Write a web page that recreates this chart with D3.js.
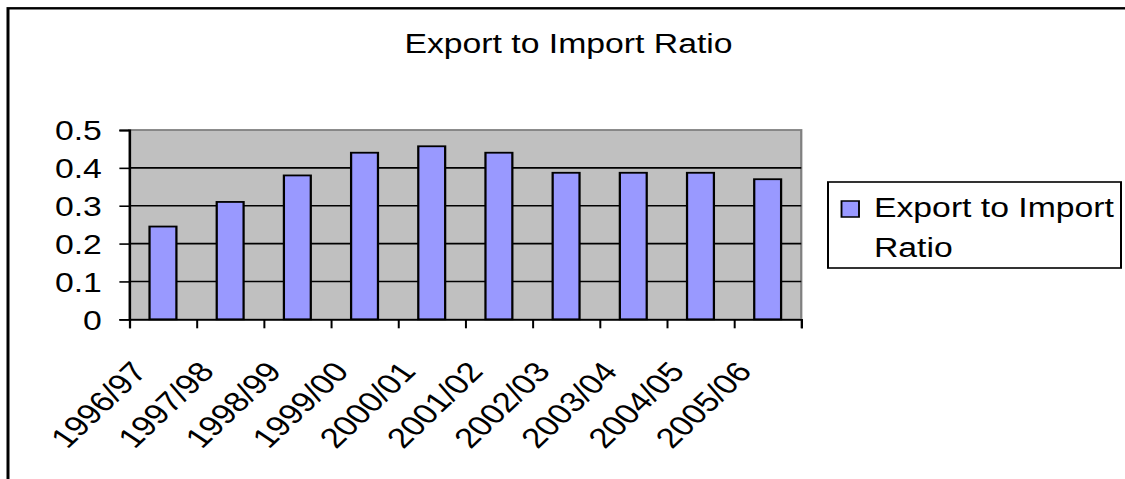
<!DOCTYPE html>
<html>
<head>
<meta charset="utf-8">
<script src="https://cdn.jsdelivr.net/npm/d3@7"></script>
<style>
html,body{margin:0;padding:0;background:#fff;overflow:hidden;}
svg{display:block;}
text{font-family:"Liberation Sans",Arial,sans-serif;fill:#000;}
</style>
</head>
<body>
<svg id="chart"></svg>
<script>
const categories = ["1996/97","1997/98","1998/99","1999/00","2000/01","2001/02","2002/03","2003/04","2004/05","2005/06"];
const values = [0.245, 0.31, 0.38, 0.44, 0.457, 0.44, 0.387, 0.387, 0.387, 0.37];
const yTicks = [0, 0.1, 0.2, 0.3, 0.4, 0.5];
const seriesName = "Export to Import Ratio";
const titleText = "Export to Import Ratio";

// drawn in a 900-wide space, stretched horizontally to 1125 like the reference
const W = 900, H = 479;
const svg = d3.select("#chart")
  .attr("width", 1125).attr("height", 479)
  .attr("viewBox", `0 0 ${W} ${H}`)
  .attr("preserveAspectRatio", "none");

// outer frame (cut at right/bottom)
svg.append("rect").attr("x", 6.4).attr("y", 8.3).attr("width", W + 20).attr("height", H + 20)
  .attr("fill", "#fff").attr("stroke", "#000").attr("stroke-width", 2.4);

const plot = {x0: 103.5, x1: 641, y0: 130, y1: 319.3};

const x = d3.scaleBand().domain(categories).range([plot.x0, plot.x1]).paddingInner(0.6).paddingOuter(0.3);
const y = d3.scaleLinear().domain([0, 0.5]).range([plot.y1, plot.y0]);

// plot area background
svg.append("rect").attr("x", plot.x0).attr("y", plot.y0)
  .attr("width", plot.x1 - plot.x0).attr("height", plot.y1 - plot.y0)
  .attr("fill", "#C0C0C0").attr("stroke", "#808080").attr("stroke-width", 1.8);

// gridlines
svg.append("g").selectAll("line").data(yTicks.filter(d => d > 0 && d < 0.5)).join("line")
  .attr("x1", plot.x0).attr("x2", plot.x1)
  .attr("y1", d => y(d)).attr("y2", d => y(d))
  .attr("stroke", "#000").attr("stroke-width", 1.6);

// bars
svg.append("g").selectAll("rect").data(values).join("rect")
  .attr("x", (d, i) => x(categories[i]))
  .attr("width", x.bandwidth())
  .attr("y", d => y(d))
  .attr("height", d => y(0) - y(d))
  .attr("fill", "#9999FF").attr("stroke", "#000").attr("stroke-width", 1.8);

// y axis
const yAxis = d3.axisLeft(y).tickValues(yTicks).tickSize(8).tickPadding(14)
  .tickFormat(d => d === 0 ? "0" : d3.format(".1f")(d));
const gy = svg.append("g").attr("transform", `translate(${plot.x0},0)`).call(yAxis);
gy.select(".domain").attr("stroke", "#000").attr("stroke-width", 1.8);
gy.selectAll(".tick line").attr("stroke", "#000").attr("stroke-width", 1.6);
gy.selectAll(".tick text").attr("font-size", 27).attr("font-family", "Liberation Sans, Arial, sans-serif")
  .attr("fill", "#000").attr("dy", "0.36em");

// x axis: ticks at category boundaries
const boundaries = d3.range(categories.length + 1);
const xb = d3.scaleLinear().domain([0, categories.length]).range([plot.x0, plot.x1]);
const gx = svg.append("g").attr("transform", `translate(0,${plot.y1})`)
  .call(d3.axisBottom(xb).tickValues(boundaries).tickSize(9).tickFormat(""));
gx.select(".domain").attr("stroke", "#000").attr("stroke-width", 1.8);
gx.selectAll(".tick line").attr("stroke", "#000").attr("stroke-width", 1.6);

// rotated category labels
svg.append("g").selectAll("text").data(categories).join("text")
  .attr("transform", d => `translate(${x(d) + x.bandwidth() / 2 - 19},${366}) rotate(-50)`)
  .attr("text-anchor", "end").attr("dy", "0.35em")
  .attr("font-size", 28)
  .text(d => d);

// title
svg.append("text").attr("x", 568.5 / 1.25).attr("y", 53.3)
  .attr("text-anchor", "middle").attr("font-size", 27).text(titleText);

// legend
const lg = svg.append("g");
lg.append("rect").attr("x", 828 / 1.25).attr("y", 182).attr("width", (1121 - 828) / 1.25).attr("height", 86)
  .attr("fill", "#fff").attr("stroke", "#000").attr("stroke-width", 1.6);
lg.append("rect").attr("x", 841.5 / 1.25).attr("y", 201).attr("width", 17.5 / 1.25).attr("height", 16)
  .attr("fill", "#9999FF").attr("stroke", "#000").attr("stroke-width", 1.5);
const words = seriesName.split(" ");
const lines = [words.slice(0, 3).join(" "), words.slice(3).join(" ")];
lg.selectAll("text.leg").data(lines).join("text").attr("class", "leg")
  .attr("x", 874 / 1.25).attr("y", (d, i) => 216.7 + i * 40)
  .attr("font-size", 27).text(d => d);
</script>
</body>
</html>
